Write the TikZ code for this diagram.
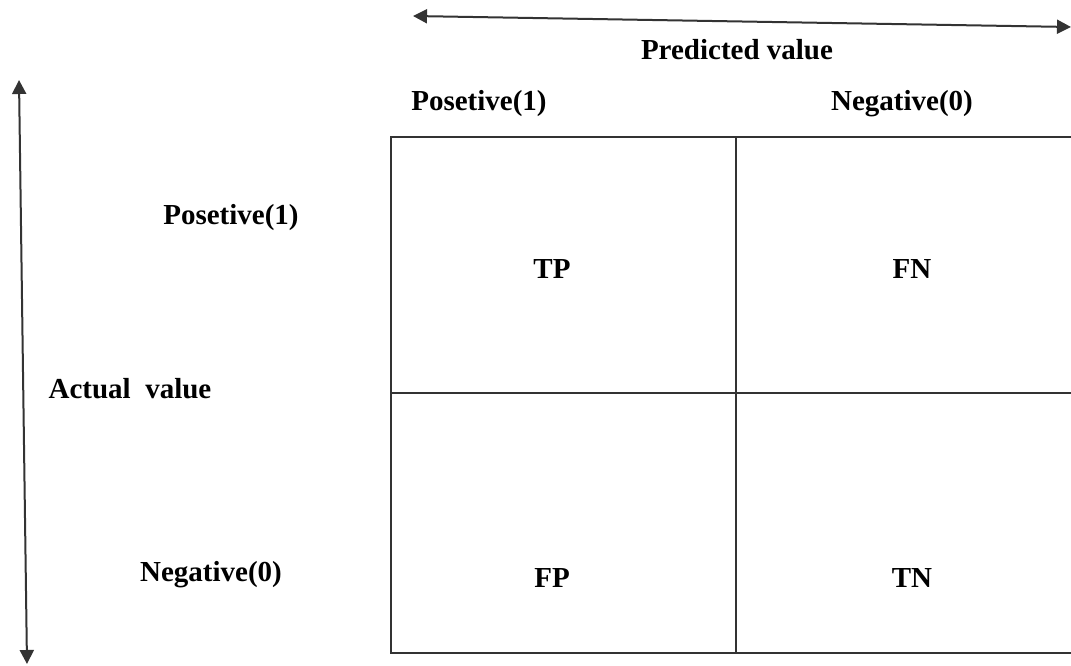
\documentclass[tikz,border=0pt]{standalone}
\usepackage{fontspec}
\setmainfont{Liberation Serif}
\usetikzlibrary{arrows.meta}
\begin{document}
\begin{tikzpicture}[x=1pt,y=-1pt,
  lbl/.style={font=\fontsize{29}{33}\selectfont\bfseries, inner sep=0pt},
  grid/.style={draw=black!80, line width=2pt},
  axis/.style={draw=black!80, line width=2pt, {Triangle[length=14pt,width=14pt]}-{Triangle[length=14pt,width=14pt]}}]
  \useasboundingbox (0,0) rectangle (1071,666);
  % confusion matrix cells
  \draw[grid] (1090,137) -- (391,137) -- (391,653) -- (1090,653);
  \draw[grid] (736,137) -- (736,653);
  \draw[grid] (391,393) -- (1090,393);
  % axes
  \coordinate (pl) at (413,16);
  \coordinate (pr) at (1071,27);
  \coordinate (at) at (19,80);
  \coordinate (ab) at (27,664);
  \draw[axis] (pl) -- (pr);
  \draw[axis] (at) -- (ab);
  % labels
  \node[lbl] (pred) at (737,50) {Predicted value};
  \node[lbl] (pp) at (479,104) {Posetive(1)};
  \node[lbl] (pn) at (902,104) {Negative(0)};
  \node[lbl] (ap) at (231,218) {Posetive(1)};
  \node[lbl] (act) at (130,389) {Actual\ \ value};
  \node[lbl] (an) at (211,575) {Negative(0)};
  \node[lbl] (tp) at (552,269) {TP};
  \node[lbl] (fn) at (912,269) {FN};
  \node[lbl] (fp) at (552,578) {FP};
  \node[lbl] (tn) at (912,578) {TN};
\end{tikzpicture}
\end{document}
